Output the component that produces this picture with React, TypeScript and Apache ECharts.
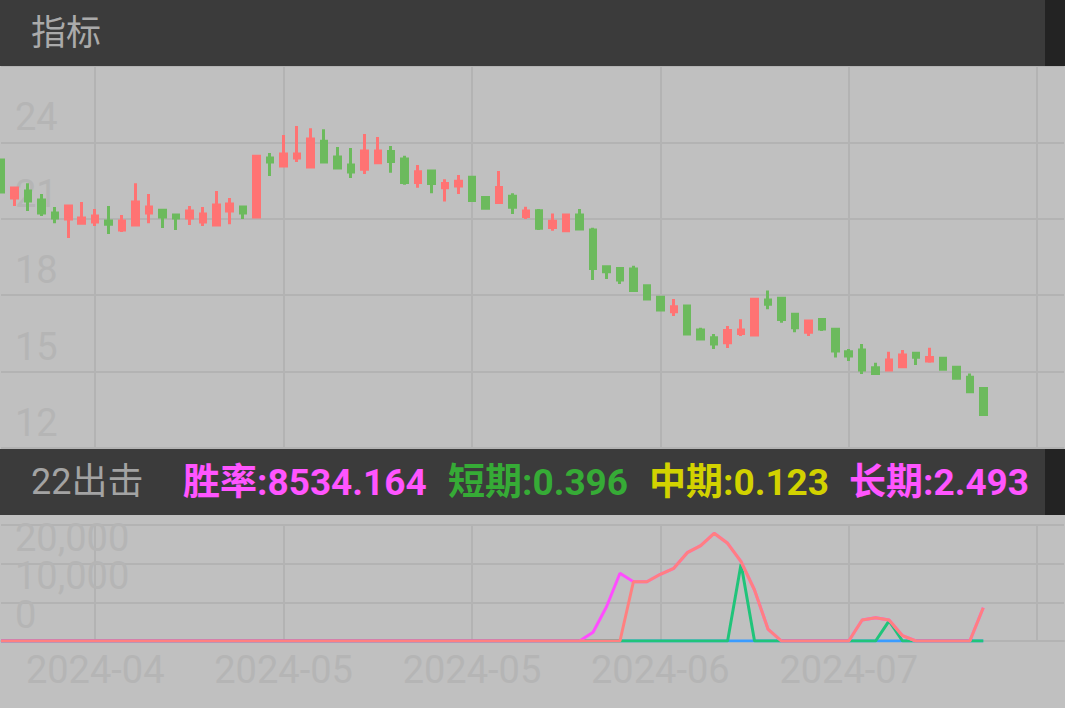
import React, { useEffect, useRef } from "react";
import * as echarts from "echarts";

// Trading days (category axis); trailing blanks leave room on the right
const dates = [
  "2024-03-29",
  "2024-04-01", "2024-04-02", "2024-04-03", "2024-04-08", "2024-04-09", "2024-04-10", "2024-04-11", "2024-04-12",
  "2024-04-15", "2024-04-16", "2024-04-17", "2024-04-18", "2024-04-19",
  "2024-04-22", "2024-04-23", "2024-04-24", "2024-04-25", "2024-04-26", "2024-04-29", "2024-04-30",
  "2024-05-06", "2024-05-07", "2024-05-08", "2024-05-09", "2024-05-10",
  "2024-05-13", "2024-05-14", "2024-05-15", "2024-05-16", "2024-05-17",
  "2024-05-20", "2024-05-21", "2024-05-22", "2024-05-23", "2024-05-24",
  "2024-05-27", "2024-05-28", "2024-05-29", "2024-05-30", "2024-05-31",
  "2024-06-03", "2024-06-04", "2024-06-05", "2024-06-06", "2024-06-07",
  "2024-06-11", "2024-06-12", "2024-06-13", "2024-06-14",
  "2024-06-17", "2024-06-18", "2024-06-19", "2024-06-20", "2024-06-21",
  "2024-06-24", "2024-06-25", "2024-06-26", "2024-06-27", "2024-06-28",
  "2024-07-01", "2024-07-02", "2024-07-03", "2024-07-04", "2024-07-05",
  "2024-07-08", "2024-07-09", "2024-07-10", "2024-07-11", "2024-07-12",
  "2024-07-15", "2024-07-16", "2024-07-17", "2024-07-18",
  "", "", "", "", "", "",
];

const openP = [
  23.31, 21.82, 22.09, 21.74, 21.23, 20.99, 20.83, 20.87, 20.91, 20.56,
  20.76, 21.23, 21.34, 21.15, 21.03, 20.87, 20.76, 21.31, 21.46, 21.07,
  23.39, 23.07, 23.39, 23.03, 24.05, 23.43, 23.11, 22.95, 23.20, 23.64,
  23.35, 22.43, 22.88, 22.22, 22.29, 22.63, 21.84, 21.64, 21.89, 21.09,
  21.32, 20.66, 20.53, 21.15, 20.56, 19.12, 19.05, 19.03, 18.37, 17.92,
  17.35, 17.58, 16.63, 16.33, 16.13, 16.50, 16.44, 17.81, 17.88, 17.25,
  16.55, 17.05, 16.66, 15.78, 15.85, 15.15, 15.06, 15.19, 15.72, 15.42,
  15.52, 15.17, 14.78, 14.34,
];
const closeP = [
  22.05, 22.21, 21.70, 21.23, 21.03, 21.50, 21.03, 21.11, 20.79, 20.91,
  21.66, 21.46, 21.07, 21.03, 21.31, 21.19, 21.54, 21.58, 21.23, 23.46,
  23.23, 23.54, 23.54, 24.13, 23.23, 22.99, 22.84, 23.66, 23.66, 23.25,
  22.43, 22.85, 22.39, 22.39, 22.47, 21.72, 21.41, 22.23, 21.45, 21.31,
  20.63, 20.90, 21.15, 20.60, 19.05, 18.92, 18.60, 18.18, 17.85, 17.42,
  17.55, 16.48, 16.28, 16.08, 16.61, 16.63, 17.84, 17.64, 17.05, 16.72,
  16.99, 16.67, 15.81, 15.61, 15.06, 14.93, 15.46, 15.65, 15.56, 15.55,
  15.09, 14.74, 14.21, 13.32,
];
const lowP = [
  22.05, 21.50, 21.31, 21.11, 20.83, 20.25, 20.79, 20.72, 20.40, 20.48,
  20.76, 20.83, 20.64, 20.56, 20.76, 20.72, 20.76, 20.79, 20.99, 21.03,
  22.68, 23.03, 23.23, 23.03, 23.19, 22.95, 22.60, 22.76, 23.20, 22.81,
  22.34, 22.22, 22.00, 21.68, 21.97, 21.68, 21.37, 21.64, 21.19, 20.99,
  20.56, 20.53, 20.53, 20.60, 18.60, 18.64, 18.44, 18.18, 17.85, 17.39,
  17.18, 16.48, 16.24, 15.89, 15.93, 16.40, 16.44, 17.45, 16.92, 16.55,
  16.40, 16.59, 15.55, 15.42, 14.91, 14.93, 15.02, 15.17, 15.26, 15.35,
  15.09, 14.71, 14.21, 13.30,
];
const highP = [
  23.31, 22.25, 22.40, 21.97, 21.46, 21.50, 21.66, 21.38, 21.50, 21.15,
  22.40, 21.97, 21.34, 21.19, 21.50, 21.46, 22.09, 21.82, 21.50, 23.46,
  23.58, 24.29, 24.64, 24.56, 24.52, 23.82, 23.78, 24.33, 24.21, 23.86,
  23.48, 23.11, 22.88, 22.55, 22.72, 22.63, 21.84, 22.88, 22.00, 21.47,
  21.38, 21.21, 21.19, 21.38, 20.65, 19.12, 19.05, 19.16, 18.37, 17.92,
  17.85, 17.58, 16.72, 16.48, 16.79, 17.06, 17.84, 18.18, 17.92, 17.25,
  16.99, 17.05, 16.66, 15.89, 16.08, 15.35, 15.78, 15.85, 15.78, 15.94,
  15.52, 15.17, 14.93, 14.34,
];

// Indicator lines (lower panel)
const pinkLine = [
  0, 0, 0, 0, 0, 0, 0, 0, 0, 0, 0, 0, 0, 0, 0, 0, 0, 0, 0, 0,
  0, 0, 0, 0, 0, 0, 0, 0, 0, 0, 0, 0, 0, 0, 0, 0, 0, 0, 0, 0,
  0, 0, 0, 0, 2250, 8870, 17510, 15330, 15330, 17250,
  18800, 22840, 24650, 27850, 25260, 20510, 13190, 3100, 0, 0,
  0, 0, 0, 0, 5430, 6030, 5430, 1370, 0, 0,
  0, 0, 0, 8610,
];
const salmonLine = [
  0, 0, 0, 0, 0, 0, 0, 0, 0, 0, 0, 0, 0, 0, 0, 0, 0, 0, 0, 0,
  0, 0, 0, 0, 0, 0, 0, 0, 0, 0, 0, 0, 0, 0, 0, 0, 0, 0, 0, 0,
  0, 0, 0, 0, 0, 0, 0, 15330, 15330, 17250,
  18800, 22840, 24650, 27850, 25260, 20510, 13190, 3100, 0, 0,
  0, 0, 0, 0, 5430, 6030, 5430, 1370, 0, 0,
  0, 0, 0, 8610,
];
const greenLine = [
  0, 0, 0, 0, 0, 0, 0, 0, 0, 0, 0, 0, 0, 0, 0, 0, 0, 0, 0, 0,
  0, 0, 0, 0, 0, 0, 0, 0, 0, 0, 0, 0, 0, 0, 0, 0, 0, 0, 0, 0,
  0, 0, 0, 0, 0, 0, 0, 0, 0, 0,
  0, 0, 0, 0, 0, 19910, 0, 0, 0, 0,
  0, 0, 0, 0, 0, 0, 5200, 0, 0, 0,
  0, 0, 0, 0,
];
const blueLine = [
  0, 0, 0, 0, 0, 0, 0, 0, 0, 0, 0, 0, 0, 0, 0, 0, 0, 0, 0, 0,
  0, 0, 0, 0, 0, 0, 0, 0, 0, 0, 0, 0, 0, 0, 0, 0, 0, 0, 0, 0,
  0, 0, 0, 0, 0, 0, 0, 0, 0, 0, 0, 0, 0, 0, 0, 0, 0, 0, 0, 0,
  0, 0, 0, 0, 0, 0, 0, 0, 0, 0, 0, 0, 0, 0,
];

const priceAxisTicks = { min: 12, max: 27, interval: 3 };
const indicatorAxisTicks = { min: 0, max: 30000, interval: 10000 };

const headerTitle = "指标";
const panelTitle = "22出击";
const statLabels = ["胜率:8534.164", "短期:0.396", "中期:0.123", "长期:2.493"];
const statColors = ["#ff55ff", "#36ab36", "#d2d200", "#ff55ff"];
const statX = [183, 448, 649, 849];

export default function App() {
  const ref = useRef<HTMLDivElement>(null);

  useEffect(() => {
    if (!ref.current) return;
    const chart = echarts.init(ref.current, null, { renderer: "svg" });
    const gridColor = "#b3b3b3";
    const labelColor = "#b5b5b5";
    const numFont = "Roboto";
    const cjkFont = "Roboto, 'Noto Sans CJK SC'";
    const every = (idx: number) => idx % 14 === 7;

    const candles = openP.map((o, i) => [o, closeP[i], lowP[i], highP[i]]);

    const graphic: any[] = [
      { type: "rect", z: 100, shape: { x: 0, y: 0, width: 1065, height: 66 }, style: { fill: "#3b3b3b" } },
      { type: "rect", z: 101, shape: { x: 1045, y: 0, width: 20, height: 66 }, style: { fill: "#232323" } },
      { type: "rect", z: 100, shape: { x: 0, y: 449, width: 1065, height: 66 }, style: { fill: "#3b3b3b" } },
      { type: "rect", z: 101, shape: { x: 1045, y: 449, width: 20, height: 66 }, style: { fill: "#232323" } },
      {
        type: "text", z: 102, x: 31, y: 33,
        style: { text: headerTitle, fill: "#aaaaaa", font: `35px ${cjkFont}`, verticalAlign: "middle", align: "left" },
      },
      {
        type: "text", z: 102, x: 31, y: 482,
        style: { text: panelTitle, fill: "#a3a3a3", font: `36px ${cjkFont}`, verticalAlign: "middle", align: "left" },
      },
      ...statLabels.map((t, i) => ({
        type: "text", z: 102, x: statX[i], y: 482,
        style: { text: t, fill: statColors[i], font: `bold 37px ${cjkFont}`, verticalAlign: "middle", align: "left" },
      })),
    ];

    const lineSeries = (data: number[], color: string) => ({
      type: "line",
      xAxisIndex: 1,
      yAxisIndex: 1,
      data,
      showSymbol: false,
      symbol: "none",
      lineStyle: { color, width: 3 },
      itemStyle: { color },
    });

    chart.setOption({
      animation: false,
      backgroundColor: "#c0c0c0",
      graphic,
      grid: [
        { left: 1, right: 1, top: 66, height: 382 },
        { left: 1, right: 1, top: 525, height: 116 },
        // label-only grid for the indicator axis (sits 11px higher so labels float above their lines)
        { left: 1, right: 1, top: 514, height: 116 },
      ],
      xAxis: [
        {
          type: "category",
          gridIndex: 0,
          data: dates,
          boundaryGap: false,
          axisLine: { show: false },
          axisTick: { show: false },
          axisLabel: { show: false, interval: every },
          splitLine: { show: true, interval: every, lineStyle: { color: gridColor, width: 2 } },
        },
        {
          type: "category",
          gridIndex: 1,
          data: dates,
          boundaryGap: false,
          axisLine: { show: true, lineStyle: { color: gridColor, width: 2 } },
          axisTick: { show: false },
          axisLabel: {
            interval: every,
            formatter: (v: string) => (v ? v.slice(0, 7) : ""),
            color: labelColor,
            fontSize: 38,
            fontFamily: numFont,
            margin: 10,
          },
          splitLine: { show: true, interval: every, lineStyle: { color: gridColor, width: 2 } },
        },
        {
          type: "category",
          gridIndex: 2,
          data: dates,
          show: false,
        },
      ],
      yAxis: [
        {
          type: "value",
          gridIndex: 0,
          ...priceAxisTicks,
          axisLine: { show: false },
          axisTick: { show: false },
          axisLabel: {
            inside: true,
            margin: 14,
            showMinLabel: true,
            showMaxLabel: false,
            verticalAlign: "bottom",
            lineHeight: 50,
            color: labelColor,
            fontSize: 38,
            fontFamily: numFont,
          },
          splitLine: { show: true, lineStyle: { color: gridColor, width: 2 } },
        },
        {
          type: "value",
          gridIndex: 1,
          ...indicatorAxisTicks,
          axisLine: { show: false },
          axisTick: { show: false },
          axisLabel: { show: false },
          splitLine: { show: true, lineStyle: { color: gridColor, width: 2 } },
        },
        {
          type: "value",
          gridIndex: 2,
          ...indicatorAxisTicks,
          axisLine: { show: false },
          axisTick: { show: false },
          splitLine: { show: false },
          axisLabel: {
            inside: true,
            margin: 14,
            showMinLabel: true,
            showMaxLabel: false,
            verticalAlign: "bottom",
            lineHeight: 30,
            color: labelColor,
            fontSize: 38,
            fontFamily: numFont,
          },
        },
      ],
      series: [
        {
          type: "candlestick",
          xAxisIndex: 0,
          yAxisIndex: 0,
          data: candles,
          barWidth: 6,
          itemStyle: {
            color: "#ff7373",
            color0: "#6cba5d",
            borderColor: "#ff7373",
            borderColor0: "#6cba5d",
            borderWidth: 3,
          },
        },
        lineSeries(blueLine, "#3a9cff"),
        lineSeries(greenLine, "#20c47a"),
        lineSeries(pinkLine, "#ff4dff"),
        lineSeries(salmonLine, "#ff8080"),
      ],
    });

    return () => chart.dispose();
  }, []);

  return (
    <div
      ref={ref}
      style={{ position: "fixed", left: 0, top: 0, width: 1065, height: 708 }}
    />
  );
}
